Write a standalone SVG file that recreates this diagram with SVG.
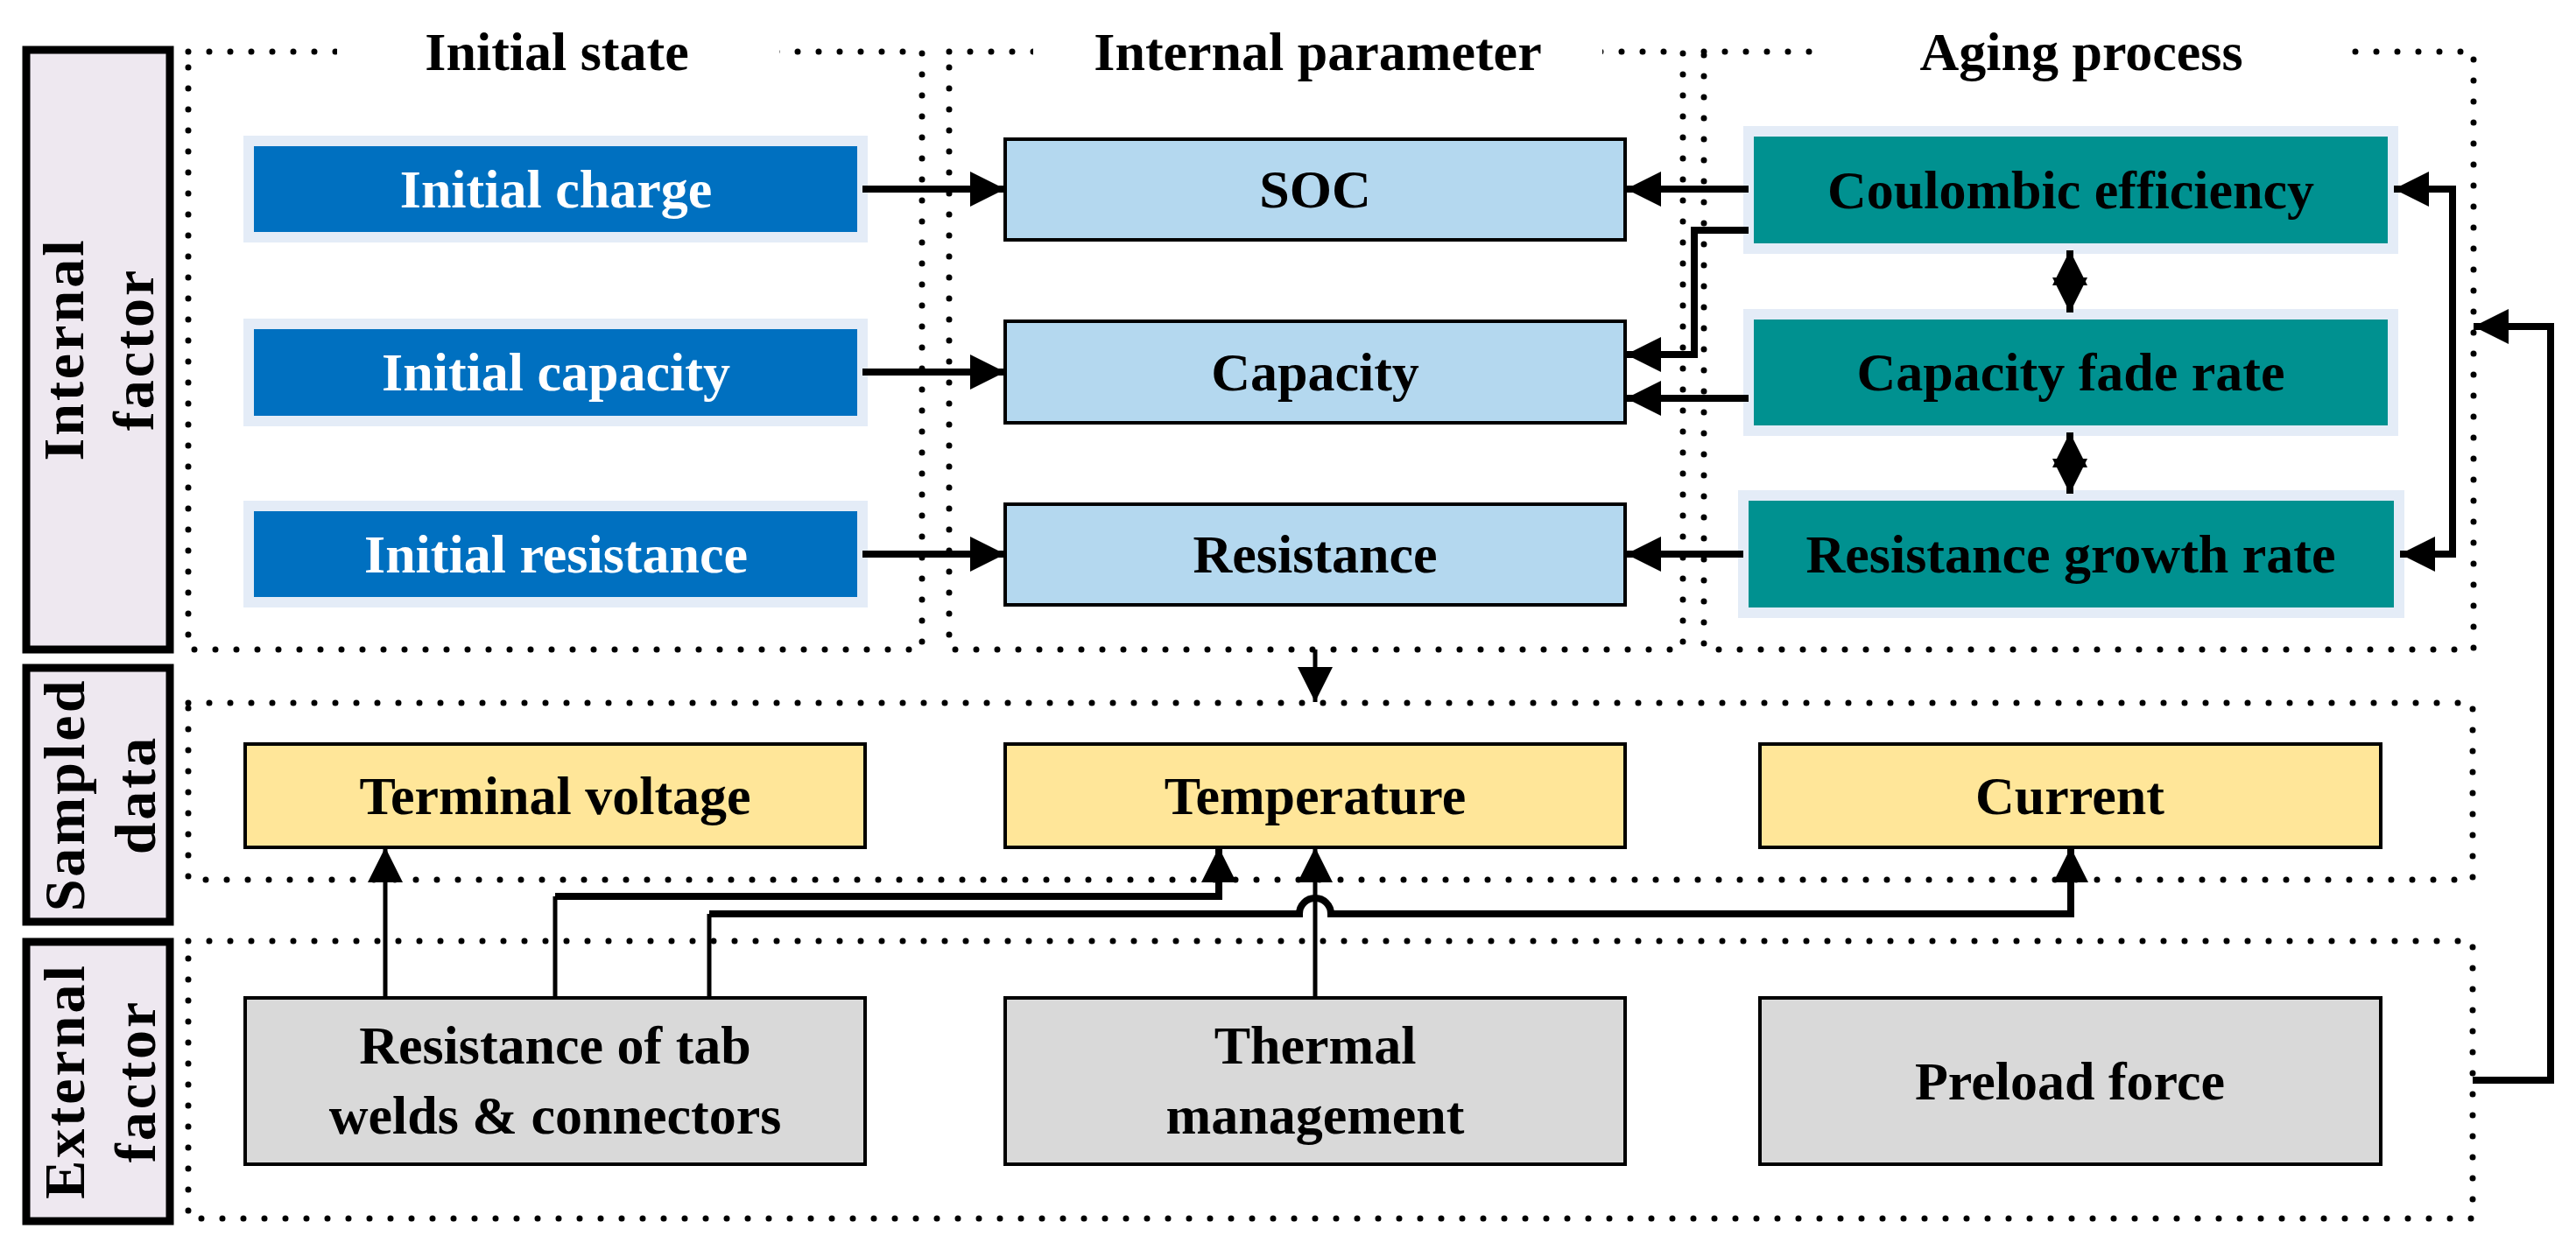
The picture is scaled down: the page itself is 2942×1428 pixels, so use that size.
<svg xmlns="http://www.w3.org/2000/svg" width="2942" height="1428" viewBox="0 0 2942 1428">
<style>
.dot{fill:none;stroke:#000;stroke-width:7;stroke-dasharray:0 24;stroke-linecap:round}
.lab{fill:#EEE8F0;stroke:#000;stroke-width:9}
.vt{font-family:"Liberation Serif",serif;font-weight:bold;font-size:66px;text-anchor:middle;letter-spacing:3px}
.t{font-family:"Liberation Serif",serif;font-weight:bold;font-size:62px;text-anchor:middle}
.w{fill:#fff}
.k{fill:#000}
.blue{fill:#0070C0;stroke:#E4ECF7;stroke-width:12}
.teal{fill:#009190;stroke:#E4ECF7;stroke-width:12}
.lb{fill:#B4D8EF;stroke:#000;stroke-width:4}
.yl{fill:#FFE699;stroke:#000;stroke-width:4}
.gr{fill:#D9D9D9;stroke:#000;stroke-width:4}
.c{fill:none;stroke:#000;stroke-width:8;stroke-linejoin:miter}
.cn{fill:none;stroke:#000;stroke-width:5}
</style>
<defs>
<marker id="a" markerUnits="userSpaceOnUse" markerWidth="42" markerHeight="40" refX="40" refY="20" orient="auto-start-reverse" viewBox="0 0 42 40"><path d="M0,0 L40,20 L0,40 z" fill="#000"/></marker>
</defs>
<rect width="2942" height="1428" fill="#fff"/>
<g id="regions">
<rect class="dot" x="215" y="59" width="838" height="683"/>
<rect class="dot" x="1084" y="59" width="838" height="683"/>
<rect class="dot" x="1946" y="59" width="879" height="683"/>
<rect class="dot" x="215" y="803" width="2609" height="202"/>
<rect class="dot" x="215" y="1075" width="2609" height="317"/>
<rect x="385" y="30" width="505" height="60" fill="#fff"/>
<rect x="1180" y="30" width="650" height="60" fill="#fff"/>
<rect x="2075" y="30" width="605" height="60" fill="#fff"/>
<text class="t" x="636" y="80">Initial state</text>
<text class="t" x="1505" y="80">Internal parameter</text>
<text class="t" x="2377" y="80">Aging process</text>
</g>
<g id="side-internal"><rect class="lab" x="30" y="57" width="164" height="685"/>
<text class="vt" transform="translate(95,399) rotate(-90)">Internal</text>
<text class="vt" transform="translate(175,399) rotate(-90)">factor</text></g>
<g id="side-sampled"><rect class="lab" x="30" y="763" width="164" height="290"/>
<text class="vt" transform="translate(96,908) rotate(-90)">Sampled</text>
<text class="vt" transform="translate(177,908) rotate(-90)">data</text></g>
<g id="side-external"><rect class="lab" x="30" y="1076" width="164" height="319"/>
<text class="vt" transform="translate(96,1235) rotate(-90)">External</text>
<text class="vt" transform="translate(177,1235) rotate(-90)">factor</text></g>
<g id="n-initcharge"><rect class="blue" x="284" y="161" width="701" height="110"/><text class="t w" x="635" y="237">Initial charge</text></g>
<g id="n-initcap"><rect class="blue" x="284" y="370" width="701" height="111"/><text class="t w" x="635" y="446">Initial capacity</text></g>
<g id="n-initres"><rect class="blue" x="284" y="578" width="701" height="110"/><text class="t w" x="635" y="654">Initial resistance</text></g>
<g id="n-soc"><rect class="lb" x="1148" y="159" width="708" height="115"/><text class="t k" x="1502" y="237">SOC</text></g>
<g id="n-cap"><rect class="lb" x="1148" y="367" width="708" height="116"/><text class="t k" x="1502" y="446">Capacity</text></g>
<g id="n-res"><rect class="lb" x="1148" y="576" width="708" height="115"/><text class="t k" x="1502" y="654">Resistance</text></g>
<g id="n-ce"><rect class="teal" x="1997" y="150" width="736" height="134"/><text class="t k" x="2365" y="238">Coulombic efficiency</text></g>
<g id="n-cfr"><rect class="teal" x="1997" y="359" width="736" height="133"/><text class="t k" x="2365" y="446">Capacity fade rate</text></g>
<g id="n-rgr"><rect class="teal" x="1991" y="566" width="749" height="134"/><text class="t k" x="2365" y="654">Resistance growth rate</text></g>
<g id="n-tv"><rect class="yl" x="280" y="850" width="708" height="118"/><text class="t k" x="634" y="930">Terminal voltage</text></g>
<g id="n-temp"><rect class="yl" x="1148" y="850" width="708" height="118"/><text class="t k" x="1502" y="930">Temperature</text></g>
<g id="n-cur"><rect class="yl" x="2010" y="850" width="709" height="118"/><text class="t k" x="2364" y="930">Current</text></g>
<g id="n-tab"><rect class="gr" x="280" y="1140" width="708" height="190"/><text class="t k" x="634" y="1215">Resistance of tab</text><text class="t k" x="634" y="1295">welds &amp; connectors</text></g>
<g id="n-thermal"><rect class="gr" x="1148" y="1140" width="708" height="190"/><text class="t k" x="1502" y="1215">Thermal</text><text class="t k" x="1502" y="1295">management</text></g>
<g id="n-preload"><rect class="gr" x="2010" y="1140" width="709" height="190"/><text class="t k" x="2364" y="1256">Preload force</text></g>
<g id="connectors">
<path class="c" d="M985,216 H1148" marker-end="url(#a)"/>
<path class="c" d="M985,425 H1148" marker-end="url(#a)"/>
<path class="c" d="M985,633 H1148" marker-end="url(#a)"/>
<path class="c" d="M1997,216 H1857" marker-end="url(#a)"/>
<path class="c" d="M1997,263 H1935 V405 H1857" marker-end="url(#a)"/>
<path class="c" d="M1997,455 H1857" marker-end="url(#a)"/>
<path class="c" d="M1991,633 H1857" marker-end="url(#a)"/>
<path class="c" d="M2364,286 V357" marker-start="url(#a)" marker-end="url(#a)"/>
<path class="c" d="M2364,494 V564" marker-start="url(#a)" marker-end="url(#a)"/>
<path class="c" d="M2741,633 H2801 V216 H2734" marker-start="url(#a)" marker-end="url(#a)"/>
<path class="c" d="M2824,1234 H2913 V373 H2825" marker-end="url(#a)"/>
<path class="cn" d="M1502,742 V802" marker-end="url(#a)"/>
<path class="cn" d="M440,1140 V968" marker-end="url(#a)"/>
<path class="cn" d="M634,1140 V1024"/>
<path class="c" d="M634,1024 H1392 V968" marker-end="url(#a)"/>
<path class="cn" d="M810,1140 V1044"/>
<path class="c" d="M810,1044 H1484 A18,18 0 0 1 1520,1044 H2365 V968" marker-end="url(#a)"/>
<path class="cn" d="M1502,1140 V968" marker-end="url(#a)"/>
</g>
</svg>
